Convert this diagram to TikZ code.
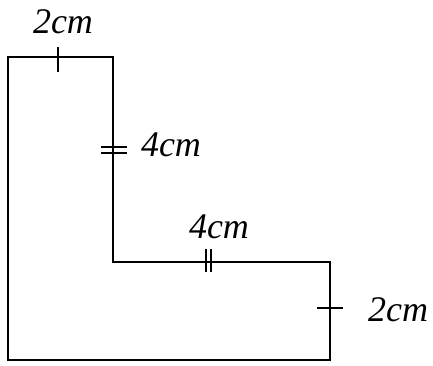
\documentclass[tikz,border=0pt]{standalone}
\usepackage{fontspec}
\setmainfont{Liberation Serif}
\begin{document}
\begin{tikzpicture}[x=1pt,y=-1pt,
  edge/.style={line width=2.6pt,line join=miter},
  tick/.style={line width=2pt},
  lbl/.style={font=\fontsize{36}{42}\selectfont\itshape,inner sep=0pt}]
\useasboundingbox (0,0) rectangle (433,365);
% corners
\coordinate (A) at (8,57);
\coordinate (B) at (113,57);
\coordinate (C) at (113,262);
\coordinate (D) at (330,262);
\coordinate (E) at (330,360);
\coordinate (F) at (8,360);
\draw[edge] (A) -- (B) -- (C) -- (D) -- (E) -- (F) -- cycle;
% tick marks
\draw[tick] (58,47) -- (58,72);
\draw[tick] (101,147) -- (127,147);
\draw[tick] (101,153) -- (127,153);
\draw[tick] (206,249) -- (206,272);
\draw[tick] (211,249) -- (211,272);
\draw[tick] (317,308) -- (343,308);
% labels
\node[lbl] (l1) at (63,22) {2cm};
\node[lbl] (l2) at (171,145) {4cm};
\node[lbl] (l3) at (219,227) {4cm};
\node[lbl] (l4) at (398,310) {2cm};
\end{tikzpicture}
\end{document}
